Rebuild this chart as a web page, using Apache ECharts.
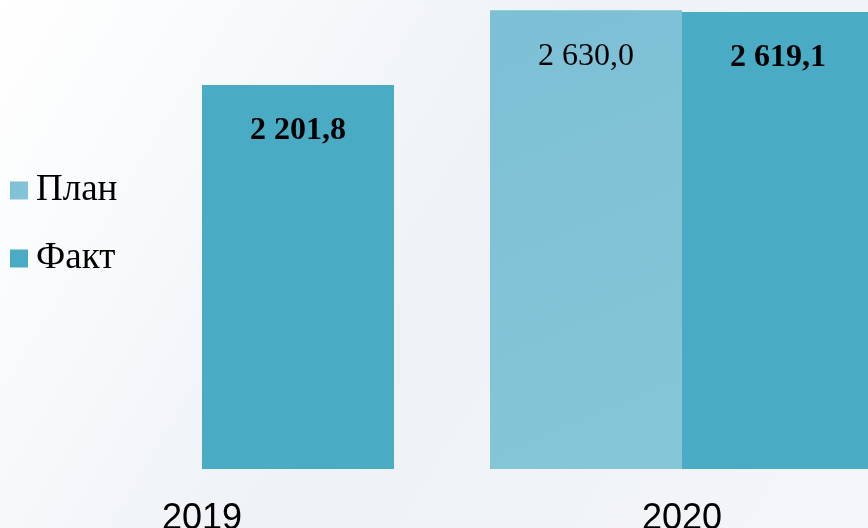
<!DOCTYPE html>
<html>
<head>
<meta charset="utf-8">
<script src="https://cdn.jsdelivr.net/npm/echarts@6/dist/echarts.min.js"></script>
<style>
  html, body { margin: 0; padding: 0; }
  #chart { width: 868px; height: 528px; }
</style>
</head>
<body>
<div id="chart"></div>
<script>
const years = ['2019', '2020'];
const planValues = [null, 2630.0];
const factValues = [2201.8, 2619.1];

// 2 630,0 style: space thousands, comma decimal
function fmt(v) {
    let s = v.toFixed(1).split('.');
    let int = s[0].replace(/\B(?=(\d{3})+(?!\d))/g, ' ');
    return int + ',' + s[1];
}

let chart = echarts.init(document.getElementById('chart'));

let option = {
    backgroundColor: new echarts.graphic.LinearGradient(0, 0, 1, 1, [
        { offset: 0, color: '#ffffff' },
        { offset: 0.5, color: '#eef2f6' },
        { offset: 1, color: '#f4f6f9' }
    ]),
    animation: false,
    legend: {
        orient: 'vertical',
        left: 10,
        top: 172,
        padding: 0,
        itemWidth: 18,
        itemHeight: 18,
        itemGap: 31,
        icon: 'rect',
        textStyle: {
            fontFamily: 'Liberation Serif',
            fontSize: 37,
            lineHeight: 37,
            padding: [0, 0, 0, 3],
            color: '#000'
        },
        data: ['План', 'Факт']
    },
    grid: {
        left: -38,
        width: 960,
        top: -2,
        bottom: 59,
        containLabel: false,
        outerBoundsMode: 'none'
    },
    xAxis: {
        type: 'category',
        data: years,
        axisLine: { show: false },
        axisTick: { show: false },
        axisLabel: {
            margin: 32,
            fontFamily: 'Liberation Sans',
            fontSize: 36,
            color: '#000'
        }
    },
    yAxis: {
        type: 'value',
        min: 0,
        max: 2700,
        show: false,
        splitLine: { show: false }
    },
    series: [
        {
            name: 'План',
            type: 'bar',
            data: planValues,
            barWidth: 192,
            barGap: '0%',
            itemStyle: {
                color: new echarts.graphic.LinearGradient(0, 0, 1, 1, [
                    { offset: 0, color: '#7dbfd5' },
                    { offset: 1, color: '#86c6d8' }
                ])
            },
            label: {
                show: true,
                position: 'insideTop',
                distance: 30,
                fontFamily: 'Liberation Serif',
                fontSize: 32,
                color: '#000',
                formatter: p => fmt(p.value)
            }
        },
        {
            name: 'Факт',
            type: 'bar',
            data: factValues,
            barWidth: 192,
            itemStyle: { color: '#4aabc5' },
            label: {
                show: true,
                position: 'insideTop',
                distance: 30,
                fontFamily: 'Liberation Serif',
                fontSize: 32,
                fontWeight: 'bold',
                color: '#000',
                formatter: p => fmt(p.value)
            }
        }
    ]
};

chart.setOption(option);
</script>
</body>
</html>
